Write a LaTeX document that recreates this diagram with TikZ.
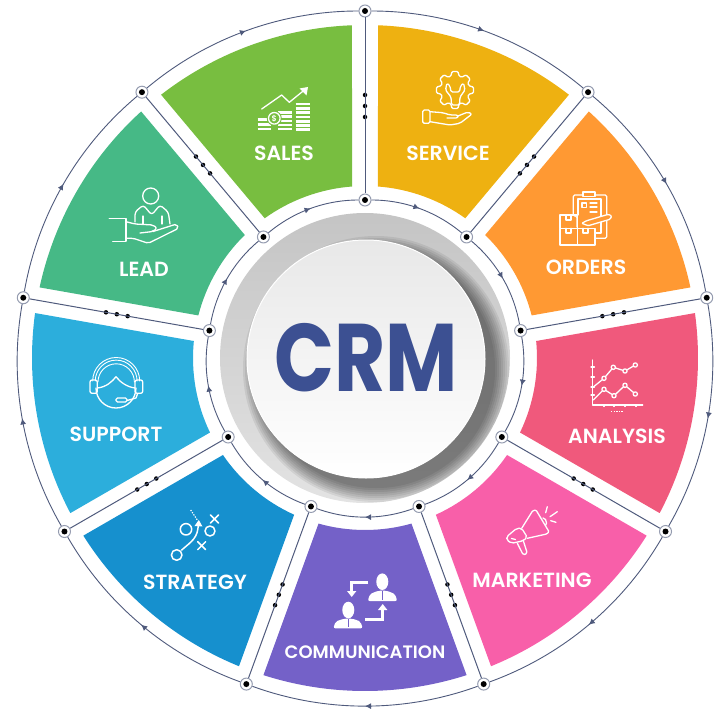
\documentclass[tikz,border=0pt]{standalone}
\usepackage{fontspec}
\setmainfont{Poppins}
\newfontfamily\semifont{Poppins SemiBold}
\usetikzlibrary{arrows.meta,decorations.markings}

\definecolor{servicecol}{HTML}{EEB111}
\definecolor{orderscol}{HTML}{FF9933}
\definecolor{analysiscol}{HTML}{F0597C}
\definecolor{marketingcol}{HTML}{F85FA9}
\definecolor{commcol}{HTML}{7461C8}
\definecolor{strategycol}{HTML}{1690CE}
\definecolor{supportcol}{HTML}{2CAEDC}
\definecolor{leadcol}{HTML}{46B986}
\definecolor{salescol}{HTML}{78BE40}
\definecolor{crmcol}{HTML}{3C5092}
\definecolor{ringcol}{HTML}{4F5A7C}

\tikzset{
  hub/.style={circle,draw=ringcol!60,line width=1pt,fill=white,minimum size=12pt,inner sep=0pt},
  hubdot/.style={circle,fill=black,minimum size=6pt,inner sep=0pt},
  spokedot/.style={circle,fill=black,minimum size=4.5pt,inner sep=0pt},
  spoke/.style={draw=ringcol,line width=1pt},
  ring/.style={draw=ringcol,line width=.9pt,bend left=20,looseness=.88,
    postaction={decorate},
    decoration={markings,mark=at position .5 with {\arrow[ringcol]{Latex[length=6pt,width=6pt]}}}},
  seclabel/.style={text=white,font=\semifont\fontsize{20.5}{22}\selectfont,inner sep=0pt},
  icon/.style={draw=white,line width=1.3pt,line cap=round,line join=round},
  iconfill/.style={fill=white},
}

\begin{document}
\begin{tikzpicture}[x=1pt,y=1pt]
\useasboundingbox (-365,-362) rectangle (362,358);
% coloured sectors
\foreach \a/\c in {90/servicecol,50/orderscol,10/analysiscol,-30/marketingcol,-70/commcol,-110/strategycol,-150/supportcol,-190/leadcol,-230/salescol}
  \fill[\c] ({\a-2.24}:333) arc[start angle=\a-2.24,end angle=\a-40+2.24,radius=333]
    -- ({\a-40+4.33}:172) arc[start angle=\a-40+4.33,end angle=\a-4.33,radius=172] -- cycle;
% centre button
\shade[top color=black!23,bottom color=black!11] (0,0) circle (145);
\begin{scope}
\clip (0,0) circle (145);
\foreach \r in {119,121,...,133}
  \fill[black,opacity=.07] (11,-11) circle (\r);
\end{scope}
\shade[top color=black!9,bottom color=white,draw=white,line width=1pt] (1,-1) circle (119);
\node[text=crmcol,font=\bfseries\fontsize{96}{96}\selectfont,transform shape,xscale=.82,inner sep=0pt] (crm) at (1,0) {CRM};
% junctions
\foreach \i in {0,...,8} {
  \pgfmathsetmacro{\a}{90-40*\i}
  \node[hub] (o\i) at (\a:347) {};
  \node[hub] (i\i) at (\a:158) {};
  \node[hubdot] (od\i) at (\a:347) {};
  \node[hubdot] (id\i) at (\a:158) {};
  \foreach \r [count=\k] in {241,252,263}
    \node[spokedot] (d\i\k) at (\a:\r) {};
}
% connectors
\foreach \i in {0,...,8} {
  \pgfmathtruncatemacro{\j}{mod(\i+1,9)}
  \draw[spoke] (i\i) -- (o\i);
  \draw[ring] (o\i) to (o\j);
  \draw[ring] (i\i) to (i\j);
}
% labels and icons, in picture pixels
\begin{scope}[shift={(-365,358)},y=-1pt]
\node[seclabel] (saleslab) at (284,153) {SALES};
\node[seclabel] (servicelab) at (448,153) {SERVICE};
\node[seclabel] (orderslab) at (586,267) {ORDERS};
\node[seclabel] (analysislab) at (617,436) {ANALYSIS};
\node[seclabel] (marketinglab) at (532,580) {MARKETING};
\node[seclabel,font=\semifont\fontsize{18}{20}\selectfont] (commlab) at (365,652) {COMMUNICATION};
\node[seclabel] (strategylab) at (195,582) {STRATEGY};
\node[seclabel] (supportlab) at (116,434) {SUPPORT};
\node[seclabel] (leadlab) at (144,269) {LEAD};
% sales
\draw[icon] (261.7,109) -- (281.7,95) -- (289.3,102.3) -- (305,89.5);
\fill[iconfill] (308,87) -- (299.5,88.5) -- (306.5,95.5) -- cycle;
\foreach \y in {119.3,124.2,129}
  \draw[white,line width=2.8pt] (257.7,\y) -- (271,\y);
\foreach \y in {112.3,116.7,121,125,129}
  \draw[white,line width=2.8pt] (278,\y) -- (292,\y);
\foreach \y in {104,108.4,112.7,117,121.2,125.4,129.5}
  \draw[white,line width=2.8pt] (295.7,\y) -- (310,\y);
\fill[salescol] (274.3,118.3) circle (7.5);
\draw[icon] (274.3,118.3) circle (5.8);
\node[text=white,font=\semifont\fontsize{8}{8}\selectfont,inner sep=0pt] (coin) at (274.3,118.3) {\$};
% service
\begin{scope}[shift={(455,90)}]
\draw[icon,rounded corners=1pt] (-17:14.5) \foreach \t in {0,45,...,315} {
    -- ({\t-17}:14.5) -- ({\t-9}:18.7) -- ({\t+9}:18.7) -- ({\t+17}:14.5) } -- cycle;
\end{scope}
\draw[icon,rounded corners=1.5pt] (447,83) -- (445.5,90) -- (451,97) -- (451.5,105) -- (459.5,105) -- (460,97) -- (465,90) -- (463.5,83) -- (460.5,86) -- (459.5,92) -- (451,92) -- (450,86) -- cycle;
\draw[icon,rounded corners=1.5pt] (422.7,110) rectangle (430,123.3);
\draw[icon,rounded corners=2pt] (430,111.7) -- (443,112.7) -- (450,115) -- (458,115) -- (458,118) -- (447,118);
\draw[icon,rounded corners=2pt] (458,116) -- (468,112) -- (472,114) -- (460,123.3) -- (450,125) -- (430,121.7);
% orders
\draw[icon,rounded corners=1.5pt] (577,227) -- (577,216) -- (573.3,216) -- (573.3,195) -- (583,195) (595,195) -- (606.7,195) -- (606.7,214);
\draw[icon,rounded corners=1.5pt] (606.7,220) -- (606.7,238.3) -- (595,238.3);
\draw[icon] (583,196.7) -- (583,192) -- (595,192) -- (595,196.7) -- cycle;
\draw[icon] (578,215) -- (578,199) -- (601,199) -- (601,216);
\draw[icon] (601,222) -- (601,233) -- (596,233);
\draw[icon] (582,203) rectangle (586.5,207.5) (590,203) -- (597,203) (590,207) -- (597,207) (590,212) -- (597,212);
\draw[icon] (560,215) rectangle (577.3,228.3);
\draw[icon] (560,228.3) rectangle (577.3,245);
\draw[icon] (577.3,228.3) -- (595,228.3) -- (595,245) -- (577.3,245);
\draw[icon] (566,215) -- (566,220) -- (571,220) -- (571,215) (566,228.3) -- (566,233) -- (571,233) -- (571,228.3) (583,228.3) -- (583,233) -- (588,233) -- (588,228.3);
\draw[icon,fill=orderscol,rounded corners=1pt] (581.7,223.3) -- (586.7,220.7) -- (608.3,214.3) -- (611.7,216) -- (610,219.3) -- (588.3,225.7) -- cycle;
% analysis
\draw[icon] (592.7,360) -- (592.7,405) -- (642.7,405);
\foreach \y in {367,377,387,395}
  \draw[icon] (591,\y) -- (594.4,\y);
\foreach \x in {604,614,625,636}
  \draw[icon] (\x,405) -- (\x,406.5);
\draw[icon] (593.3,387) -- (604,378.3) -- (613.3,367.3) -- (625,371) -- (635.3,365);
\draw[icon] (593.3,400) -- (604,389.3) -- (614,395.7) -- (625,385.3) -- (635.3,394);
\foreach \x/\y in {604/378.3,613.3/367.3,625/371,635.3/365,604/389.3,614/395.7,625/385.3,635.3/394}
  \draw[icon,fill=analysiscol] (\x,\y) circle (2.1);
\draw[white,line width=1.1pt,dash pattern=on 1.3pt off 1.3pt] (611,411.3) -- (623,411.3);
% marketing
\draw[icon,rounded corners=1pt] (521.7,528.3) -- (532.7,510.7) -- (536,510) -- (549,531.7) -- (546.7,534) -- (527.3,538.3);
\draw[icon,rounded corners=2pt] (506.7,536.7) -- (516.7,528.3) -- (521.7,528.3) -- (527.3,537.3) -- (523.3,540.7) -- (511.7,543.3) -- (506.7,540) -- cycle;
\draw[icon,rounded corners=1.5pt] (517.3,543.3) -- (523.3,555) -- (527.3,553.3) -- (523.3,540.7);
\draw[icon] (543,518) -- (545.5,519.5) -- (546.5,523) -- (545.5,525.5);
\draw[icon] (545.7,512.7) -- (547.3,506.7) (550,516.7) -- (557.3,511.7) (550.7,520.7) -- (556,522.3) (511.5,538.5) -- (515.5,539.5);
% communication
\fill[iconfill] (382.3,581.7) ellipse (6 and 8.3);
\fill[iconfill,rounded corners=2pt] (367.7,601) -- (370,594) -- (378.3,590.7) -- (386.7,590.7) -- (395,594) -- (397.3,601) -- cycle;
\fill[iconfill] (348.3,610) ellipse (6 and 8.3);
\fill[iconfill,rounded corners=2pt] (333.3,628.3) -- (335.7,621.5) -- (344,618.7) -- (352.7,618.7) -- (360.5,621.5) -- (362.7,628.3) -- cycle;
\draw[commcol,line width=1pt] (382.3,591) -- (382.3,600) (348.3,619) -- (348.3,627);
\draw[white,line width=2.5pt,-{Triangle[length=6pt,width=9pt]}] (368.3,582.7) -- (351.7,582.7) -- (351.7,597);
\draw[white,line width=2.5pt,-{Triangle[length=6pt,width=9pt]}] (365,619.3) -- (382.7,619.3) -- (382.7,604);
% strategy
\draw[icon,line width=1.5pt] (186,529.3) circle (5.7);
\draw[icon,line width=1.5pt] (210,531) circle (5);
\draw[icon,line width=1.5pt] (176.7,555) circle (5.3);
\draw[icon,line width=1.5pt] (210.5,515) -- (218.5,523) (218.5,515) -- (210.5,523);
\draw[icon,line width=1.5pt] (197.7,541.7) -- (205.7,549.7) (205.7,541.7) -- (197.7,549.7);
\draw[icon,line width=1.5pt] (181.7,550) .. controls (192,541) and (198,538) .. (198.3,524);
\fill[iconfill] (198.8,520) -- (194.5,526) -- (202.5,526.5) -- cycle;
\draw[white,line width=1.2pt,dash pattern=on 1.3pt off 1.3pt] (190.7,510) -- (197.3,520);
% support
\draw[icon] (136,388) arc[start angle=0,end angle=180,radius=20];
\draw[icon,line width=.9pt] (92.7,381) arc[start angle=180,end angle=360,radius=23.5];
\draw[icon,line width=.9pt] (95.3,381) arc[start angle=180,end angle=360,radius=20.9];
\draw[icon,line width=.9pt] (98,382) arc[start angle=180,end angle=360,radius=18.2];
\draw[icon,rounded corners=2pt] (90,380) rectangle (97.3,393.3);
\draw[icon,rounded corners=2pt] (135,380) rectangle (142.7,393.3);
\draw[icon] (97.5,388) .. controls (106,387) and (112,382) .. (116,376.7) .. controls (120,382) and (127,387) .. (135,388);
\draw[icon] (137.5,394) -- (136,398) -- (127,400.5);
\draw[icon,fill=supportcol,rounded corners=1.5pt] (116,398) rectangle (127,402);
% lead
\draw[icon] (150.7,196) circle (8);
\draw[icon,rounded corners=3pt] (135,222) -- (135,212) -- (143.3,205) -- (151.7,215) -- (160,205) -- (168.3,212) -- (170,224);
\draw[icon] (143,216) -- (143,224) (162,216) -- (162,224);
\draw[icon] (109.3,218.7) -- (126,218.7) -- (126,240.7) (112.7,241.7) -- (126,241.7);
\draw[icon,rounded corners=2pt] (126,221.7) -- (135,224) -- (153,225) -- (157,228) -- (153,231.5) -- (140,233);
\draw[icon,rounded corners=2pt] (153,231.5) -- (176.7,224) -- (178.5,228.3) -- (148.3,243.3) -- (133.3,238.3) -- (126,238.3);
\end{scope}
\end{tikzpicture}
\end{document}
